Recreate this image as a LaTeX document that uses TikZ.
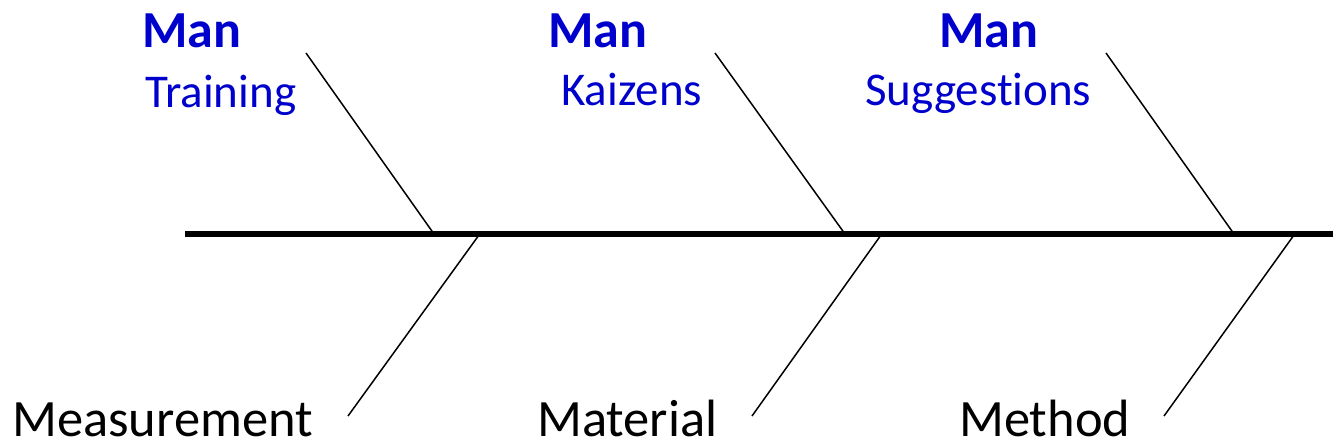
\documentclass[tikz,border=0pt]{standalone}
\usepackage{fontspec}
\setmainfont[Ligatures=NoCommon]{Carlito}
\definecolor{manblue}{RGB}{0,0,204}
\begin{document}
\begin{tikzpicture}[x=1pt,y=-1pt,
  spine/.style={line width=5.5pt,black},
  bone/.style={line width=1.5pt,black},
  cat/.style={anchor=base west,inner sep=0pt,font=\fontsize{52}{60}\selectfont\bfseries,text=manblue},
  sub/.style={anchor=base west,inner sep=0pt,font=\fontsize{47}{54}\selectfont,text=manblue},
  low/.style={anchor=base west,inner sep=0pt,font=\fontsize{52.5}{60}\selectfont,text=black}]
\useasboundingbox (0,0) rectangle (1333,445);
% spine
\coordinate (s0) at (185,234);
\coordinate (s1) at (1333,234);
\draw[spine] (s0) -- (s1);
% upper bones
\coordinate (u1a) at (306,53);  \coordinate (u1b) at (434,234);
\coordinate (u2a) at (715,53);  \coordinate (u2b) at (845,234);
\coordinate (u3a) at (1106,53); \coordinate (u3b) at (1234,234);
\draw[bone] (u1a) -- (u1b);
\draw[bone] (u2a) -- (u2b);
\draw[bone] (u3a) -- (u3b);
% lower bones
\coordinate (l1a) at (479,235); \coordinate (l1b) at (348,416);
\coordinate (l2a) at (881,235); \coordinate (l2b) at (752,416);
\coordinate (l3a) at (1294,235); \coordinate (l3b) at (1164,416);
\draw[bone] (l1a) -- (l1b);
\draw[bone] (l2a) -- (l2b);
\draw[bone] (l3a) -- (l3b);
% labels
\node[cat] (m1) at (142,47) {Man};
\node[cat] (m2) at (548,47) {Man};
\node[cat] (m3) at (939,47) {Man};
\node[sub] (t1) at (145,107) {Training};
\node[sub] (t2) at (561,105) {Kaizens};
\node[sub] (t3) at (865,105) {Suggestions};
\node[low] (b1) at (12,436) {Measurement};
\node[low] (b2) at (537,436) {Material};
\node[low] (b3) at (959,436) {Method};
\end{tikzpicture}
\end{document}
